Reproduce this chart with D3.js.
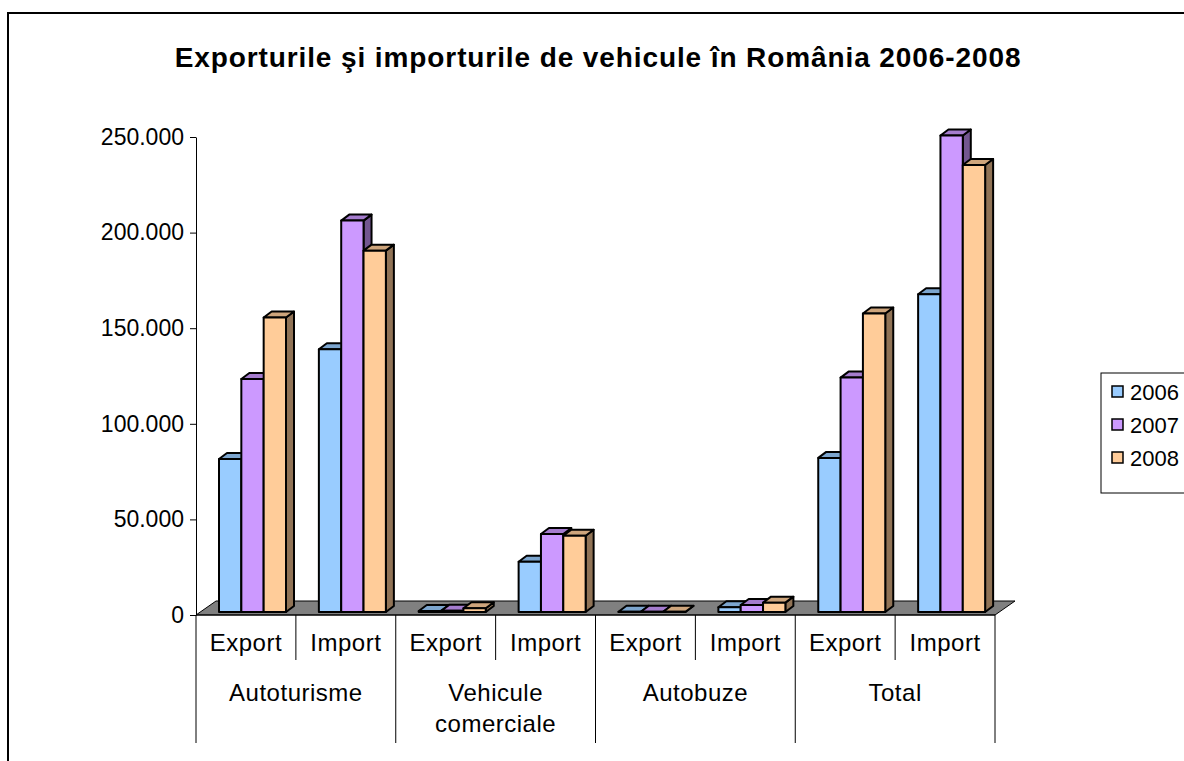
<!DOCTYPE html>
<html>
<head>
<meta charset="utf-8">
<script src="https://cdn.jsdelivr.net/npm/d3@7"></script>
<style>
  body { margin: 0; background: #fff; }
  text { font-family: "Liberation Sans", Arial, sans-serif; fill: #000; }
</style>
</head>
<body>
<svg id="chart" width="1184" height="761"></svg>
<script>
// data
var groups = ["Autoturisme", "Vehicule comerciale", "Autobuze", "Total"];
var flows = ["Export", "Import"];
var years = ["2006", "2007", "2008"];
var v2006 = [80000, 137400, 500, 26300, 100, 2500, 80600, 166200];
var v2007 = [121900, 204700, 600, 40800, 100, 3700, 122600, 249200];
var v2008 = [154000, 189000, 2000, 39900, 100, 4900, 156100, 233800];
var yTicks = [0, 50000, 100000, 150000, 200000, 250000];
var colors = ["#99ccff", "#cc99ff", "#ffcc99"];

var series = [v2006, v2007, v2008];
var cats = [];
groups.forEach(function(g) { flows.forEach(function(f) { cats.push(g + "|" + f); }); });

var svg = d3.select("#chart");

// outer frame
svg.append("rect")
    .attr("x", 8).attr("y", 13)
    .attr("width", 1300).attr("height", 900)
    .attr("fill", "none").attr("stroke", "#000").attr("stroke-width", 2);

svg.append("text")
    .attr("x", 598).attr("y", 67)
    .attr("text-anchor", "middle")
    .style("font-size", "28px").style("font-weight", "bold")
    .style("letter-spacing", "0.9px")
    .text("Exporturile şi importurile de vehicule în România 2006-2008");

var left = 196, right = 995, base = 615;
var floorDx = 20, floorDy = -14;   // depth of the floor
var barShiftX = 4, barShiftY = -3; // bars sit a bit behind the front edge
var topDx = 8, topDy = -6;         // depth of a bar

var x = d3.scaleBand().domain(cats).range([left, right]);
var xi = d3.scaleBand().domain(years).range([19, 86]);
var y = d3.scaleLinear().domain([0, 250000]).range([base, 137]);

// floor
svg.append("polygon")
    .attr("points", [[left, base], [right, base], [right + floorDx, base + floorDy], [left + floorDx, base + floorDy]].join(" "))
    .attr("fill", "#808080").attr("stroke", "#000").attr("stroke-width", 1);

// bars, drawn left to right so the later ones hide the sides
var bars = [];
cats.forEach(function(c, ci) {
  years.forEach(function(yr, si) {
    bars.push({ cat: c, year: yr, si: si, value: series[si][ci] });
  });
});

var g = svg.append("g");
var bar = g.selectAll("g.bar").data(bars).enter().append("g").attr("class", "bar");

function geom(d) {
  var x0 = x(d.cat) + xi(d.year) + barShiftX;
  var x1 = x0 + xi.bandwidth();
  var yb = y(0) + barShiftY;
  var yt = y(d.value) + barShiftY;
  return { x0: x0, x1: x1, yb: yb, yt: yt };
}

bar.append("polygon") // side
    .attr("points", function(d) {
      var q = geom(d);
      return [[q.x1, q.yb], [q.x1 + topDx, q.yb + topDy], [q.x1 + topDx, q.yt + topDy], [q.x1, q.yt]].join(" ");
    })
    .attr("fill", function(d) { return d3.color(colors[d.si]).darker(1.6); })
    .attr("stroke", "#000").attr("stroke-width", 2).attr("stroke-linejoin", "round");

bar.append("polygon") // top
    .attr("points", function(d) {
      var q = geom(d);
      return [[q.x0, q.yt], [q.x1, q.yt], [q.x1 + topDx, q.yt + topDy], [q.x0 + topDx, q.yt + topDy]].join(" ");
    })
    .attr("fill", function(d) { return d3.color(colors[d.si]).darker(0.6); })
    .attr("stroke", "#000").attr("stroke-width", 2).attr("stroke-linejoin", "round");

bar.append("rect") // front
    .attr("x", function(d) { return geom(d).x0; })
    .attr("y", function(d) { return geom(d).yt; })
    .attr("width", xi.bandwidth())
    .attr("height", function(d) { var q = geom(d); return Math.max(0, q.yb - q.yt); })
    .attr("fill", function(d) { return colors[d.si]; })
    .attr("stroke", "#000").attr("stroke-width", 2).attr("stroke-linejoin", "round");

// value axis
var yAxis = d3.axisLeft(y)
    .tickValues(yTicks)
    .tickSize(6).tickSizeOuter(0).tickPadding(6)
    .tickFormat(function(d) { return d3.format(",")(d).replace(/,/g, "."); });

var ya = svg.append("g").attr("transform", "translate(" + left + ",0)").call(yAxis);
ya.selectAll("text").style("font-size", "23px").style("font-family", "'Liberation Sans', Arial, sans-serif");
ya.selectAll("path, line").attr("stroke", "#000");

// category axis
var ca = svg.append("g");
ca.append("line")
    .attr("x1", left).attr("x2", right).attr("y1", base).attr("y2", base)
    .attr("stroke", "#000");

var edges = cats.map(function(c) { return x(c); }).concat([right]);
ca.selectAll("line.div").data(edges).enter().append("line")
    .attr("x1", function(d) { return d; }).attr("x2", function(d) { return d; })
    .attr("y1", base)
    .attr("y2", function(d, i) { return i % 2 === 0 ? 743 : 660; })
    .attr("stroke", "#000");

ca.selectAll("text.flow").data(cats).enter().append("text")
    .attr("x", function(d) { return x(d) + x.bandwidth() / 2; })
    .attr("y", 651)
    .attr("text-anchor", "middle")
    .style("font-size", "24px").style("letter-spacing", "0.5px")
    .text(function(d) { return d.split("|")[1]; });

var gl = ca.selectAll("text.group").data(groups).enter().append("text")
    .attr("y", 701)
    .attr("text-anchor", "middle")
    .style("font-size", "24px").style("letter-spacing", "0.5px");
gl.each(function(d) {
  var words = d === "Vehicule comerciale" ? ["Vehicule", "comerciale"] : [d];
  var t = d3.select(this);
  var cx = x(d + "|Export") + x.bandwidth();
  words.forEach(function(w, i) {
    t.append("tspan").attr("x", cx).attr("dy", i === 0 ? 0 : 31).text(w);
  });
});

// legend
var lg = svg.append("g").attr("transform", "translate(1101,373)");
lg.append("rect").attr("width", 120).attr("height", 120)
    .attr("fill", "#fff").attr("stroke", "#000");
var li = lg.selectAll("g").data(years).enter().append("g")
    .attr("transform", function(d, i) { return "translate(0," + (19 + i * 33) + ")"; });
li.append("rect").attr("x", 11).attr("y", -6).attr("width", 11).attr("height", 11)
    .attr("fill", function(d, i) { return colors[i]; })
    .attr("stroke", "#000").attr("stroke-width", 1.5);
li.append("text").attr("x", 29).attr("y", 8).style("font-size", "22px").text(function(d) { return d; });
</script>
</body>
</html>
